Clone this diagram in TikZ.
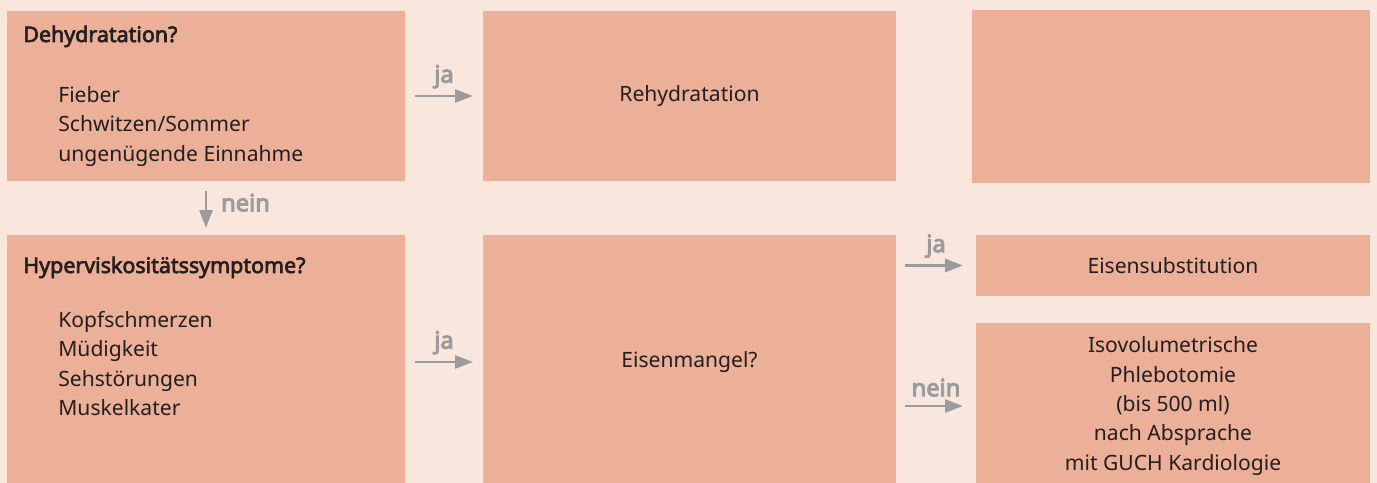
\documentclass[tikz,border=0pt]{standalone}
\usepackage{fontspec}
\setmainfont{Noto Sans}
\newfontfamily\heavysans{Noto Sans}[FakeBold=3]
\newfontfamily\labelsans{Noto Sans}[FakeBold=4]
\usetikzlibrary{arrows.meta}
\definecolor{bgpeach}{HTML}{F9E6DD}
\definecolor{boxsalmon}{HTML}{ECAF98}
\definecolor{flowgray}{HTML}{999B9C}
\definecolor{textdark}{HTML}{231F20}
\begin{document}
\begin{tikzpicture}[x=0.02cm,y=-0.02cm,
  box/.style={fill=boxsalmon,draw=none,inner sep=0pt},
  txt/.style={font=\fontsize{12}{16.7}\selectfont,text=textdark,inner sep=0pt},
  head/.style={txt,font=\fontsize{12.2}{16.7}\selectfont\heavysans,anchor=base west},
  flow/.style={draw=flowgray,line width=1.15pt,shorten <=0.2cm,shorten >=0.2cm,
    -{Triangle[length=10pt,width=7.5pt]}},
  lab/.style={font=\fontsize{13.5}{15}\selectfont\labelsans,text=flowgray,inner sep=0pt}]
 \clip (0,0) rectangle (1377,483);
 \fill[bgpeach] (0,0) rectangle (1377,483);
 % boxes
 \node[box,minimum width=7.96cm,minimum height=3.4cm] (dehyd) at (206,96) {};
 \node[box,minimum width=8.26cm,minimum height=3.4cm] (rehyd) at (689.5,96) {};
 \node[box,minimum width=7.96cm,minimum height=3.46cm] (empty) at (1171,96.5) {};
 \node[box,minimum width=7.96cm,minimum height=5.08cm] (hyper) at (206,362) {};
 \node[box,minimum width=8.26cm,minimum height=5.08cm] (eisen) at (689.5,362) {};
 \node[box,minimum width=7.88cm,minimum height=1.22cm] (subst) at (1173,265.5) {};
 \node[box,minimum width=7.88cm,minimum height=3.32cm] (phleb) at (1173,406) {};
 % texts
 \node[head] at (23,42) {Dehydratation?};
 \node[txt,align=left,anchor=north west] at (58,86) {Fieber\\Schwitzen/Sommer\\ungenügende Einnahme};
 \node[txt] at (rehyd) {Rehydratation};
 \node[head] at (23,273) {Hyperviskositätssymptome?};
 \node[txt,align=left,anchor=north west] at (58,311) {Kopfschmerzen\\Müdigkeit\\Sehstörungen\\Muskelkater};
 \node[txt] at (eisen) {Eisenmangel?};
 \node[txt] at (subst) {Eisensubstitution};
 \node[txt,align=center] at (phleb) {Isovolumetrische\\Phlebotomie\\(bis 500 ml)\\nach Absprache\\mit GUCH Kardiologie};
 % arrows
 \draw[flow] (dehyd.east) -- (rehyd.west) node[lab,midway,yshift=11pt] {ja};
 \draw[flow,shorten >=0.14cm] (dehyd.south) -- (hyper.north) node[lab,pos=0.4,anchor=west,xshift=8pt] {nein};
 \draw[flow] (hyper.east) -- (eisen.west) node[lab,midway,yshift=11pt] {ja};
 \draw[flow,shorten <=0.18cm,shorten >=0.26cm] (eisen.east |- subst.west) -- (subst.west) node[lab,midway,yshift=11pt] {ja};
 \draw[flow,shorten <=0.18cm,shorten >=0.26cm] (eisen.east |- phleb.west) -- (phleb.west) node[lab,midway,yshift=10.5pt] {nein};
\end{tikzpicture}
\end{document}
